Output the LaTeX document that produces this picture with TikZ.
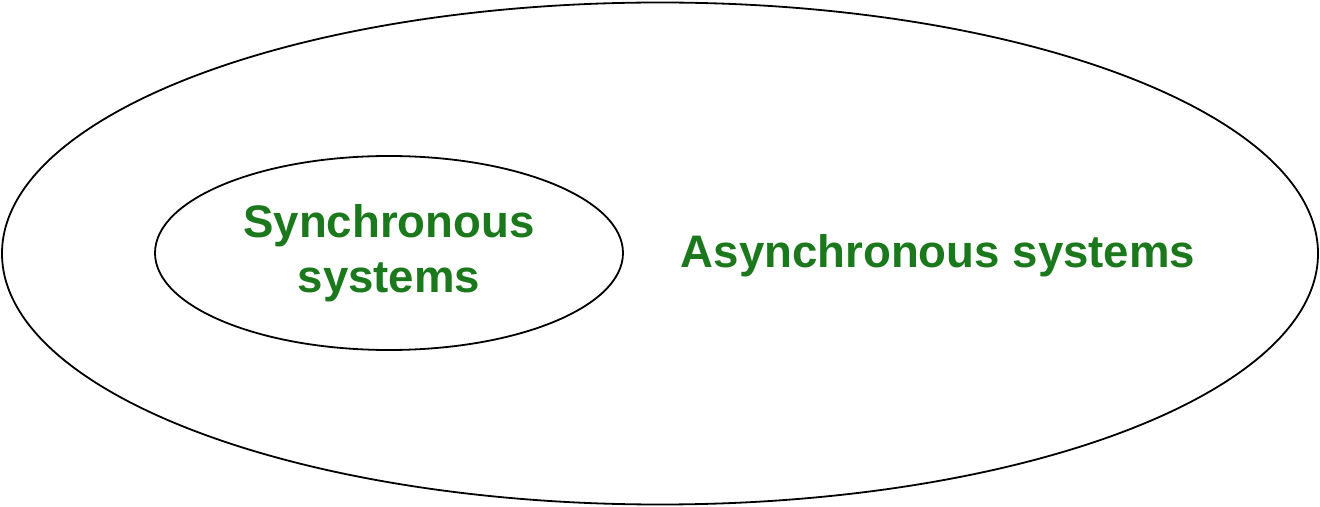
\documentclass[tikz,border=0pt]{standalone}
\usepackage{fontspec}
\setmainfont{Liberation Sans}
\usetikzlibrary{shapes.geometric}
\definecolor{sysgreen}{RGB}{28,120,28}

\begin{document}
\begin{tikzpicture}[
    x=0.5pt, y=-0.5pt,
    set/.style={draw, ellipse, line width=0.9pt, inner sep=0pt, align=center},
    label/.style={text=sysgreen, font=\fontsize{22.8}{27.5}\selectfont\bfseries}
]
\useasboundingbox (0,0) rectangle (1320,507);

% Sets
\node [set, minimum width=658pt, minimum height=251pt] (async) at (660,253.5) {};
\node [set, label, minimum width=234pt, minimum height=97pt] (sync) at (389,253) {Synchronous\\systems};

% Label of the outer set
\node [label] (asynclabel) at (938,256) {Asynchronous systems};

\end{tikzpicture}
\end{document}
